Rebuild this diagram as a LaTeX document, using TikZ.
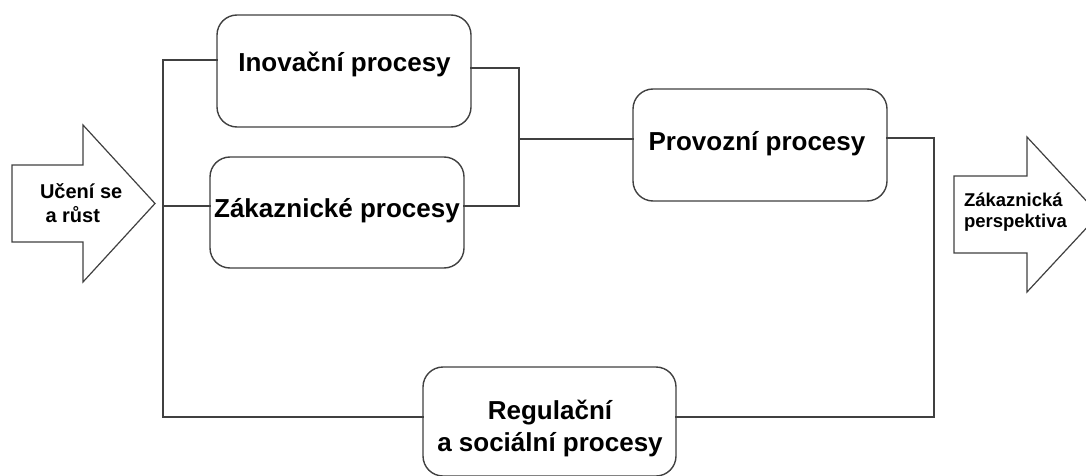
\documentclass[tikz,border=0pt]{standalone}
\usepackage{fontspec}
\setmainfont{Liberation Sans}
\usepackage{tikz}
\usetikzlibrary{calc}

\begin{document}
\begin{tikzpicture}[x=1pt,y=-1pt,line cap=rect]
				\def\bscfontA{\fontsize{26pt}{32pt}\bfseries\selectfont} % process boxes
				\def\bscfontB{\fontsize{20pt}{24pt}\bfseries\selectfont} % left arrow
				\def\bscfontC{\fontsize{18.5pt}{21pt}\bfseries\selectfont} % right arrow
				\definecolor{custcol_40_40_40}{RGB}{64, 64, 64}
				\definecolor{custcol_0_0_0}{RGB}{0, 0, 0}
				\definecolor{custcol_ff_ff_ff}{RGB}{255, 255, 255}
				\tikzset{procbox/.style={draw=custcol_40_40_40, line width=1.4pt, fill=custcol_ff_ff_ff, rounded corners=20pt, minimum width=254pt, inner sep=0, outer sep=0},
					wire/.style={draw=custcol_40_40_40, line width=1.4pt},
					bigarrow/.style={draw=custcol_40_40_40, line width=1.2pt, line join=miter, fill=custcol_ff_ff_ff},
					txt/.style={inner sep=0, outer sep=0, custcol_0_0_0}}
				\useasboundingbox (0,0) rectangle (1086,476);
				% boxes
				\node[procbox, minimum height=112pt] (innov) at (344.0,71.0) {};
				\node[procbox, minimum height=111pt] (zak) at (337.0,212.5) {};
				\node[procbox, minimum height=112pt] (prov) at (760.0,145.0) {};
				\node[procbox, minimum width=253pt, minimum height=109pt] (reg) at (549.5,421.5) {};
				% bus points
				\coordinate (ltop) at (163.0,60.0);
				\coordinate (lmid) at (163.0,206.0);
				\coordinate (lbot) at (163.0,417.0);
				\coordinate (rtop) at (519.0,68.0);
				\coordinate (rmid) at (519.0,139.0);
				\coordinate (rbot) at (519.0,206.0);
				\coordinate (otop) at (934.0,138.0);
				\coordinate (obot) at (934.0,417.0);
				\draw [wire] (ltop) -- (lbot) ;
				\draw [wire] (ltop) -- (ltop -| innov.west) ;
				\draw [wire] (lmid) -- (lmid -| zak.west) ;
				\draw [wire] (lbot) -- (lbot -| reg.west) ;
				\draw [wire] (rtop -| innov.east) -- (rtop) -- (rbot) -- (rbot -| zak.east) ;
				\draw [wire] (rmid) -- (rmid -| prov.west) ;
				\draw [wire] (otop -| prov.east) -- (otop) -- (obot) -- (obot -| reg.east) ;
				% big arrows
				\draw [bigarrow] (12.0,165.0) -- (83.0,165.0) -- (83.0,125.0) -- (155.0,203.5) -- (83.0,282.0) -- (83.0,242.0) -- (12.0,242.0) -- cycle ;
				\draw [bigarrow] (954.0,176.0) -- (1027.0,176.0) -- (1027.0,137.0) -- (1099.0,214.5) -- (1027.0,292.0) -- (1027.0,253.0) -- (954.0,253.0) -- cycle ;
				% texts (base of a two-line node = last line)
				\node[txt, font=\bscfontB, anchor=base west, align=left] (tlearn) at (40.0,222.0) {Učení se\\~a růst};
				\node[txt, font=\bscfontC, anchor=base west, align=left] (tcust) at (964.0,227.0) {Zákaznická\\perspektiva};
				\node[txt, font=\bscfontA, anchor=base] (tinnov) at (344.5,72.0) {Inovační procesy};
				\node[txt, font=\bscfontA, anchor=base] (tzak) at (337.0,217.0) {Zákaznické procesy};
				\node[txt, font=\bscfontA, anchor=base] (tprov) at (757.0,150.0) {Provozní procesy};
				\node[txt, font=\bscfontA, anchor=base, align=center] (treg) at (550.0,451.0) {Regulační\\a sociální procesy};
			\end{tikzpicture}
\end{document}
